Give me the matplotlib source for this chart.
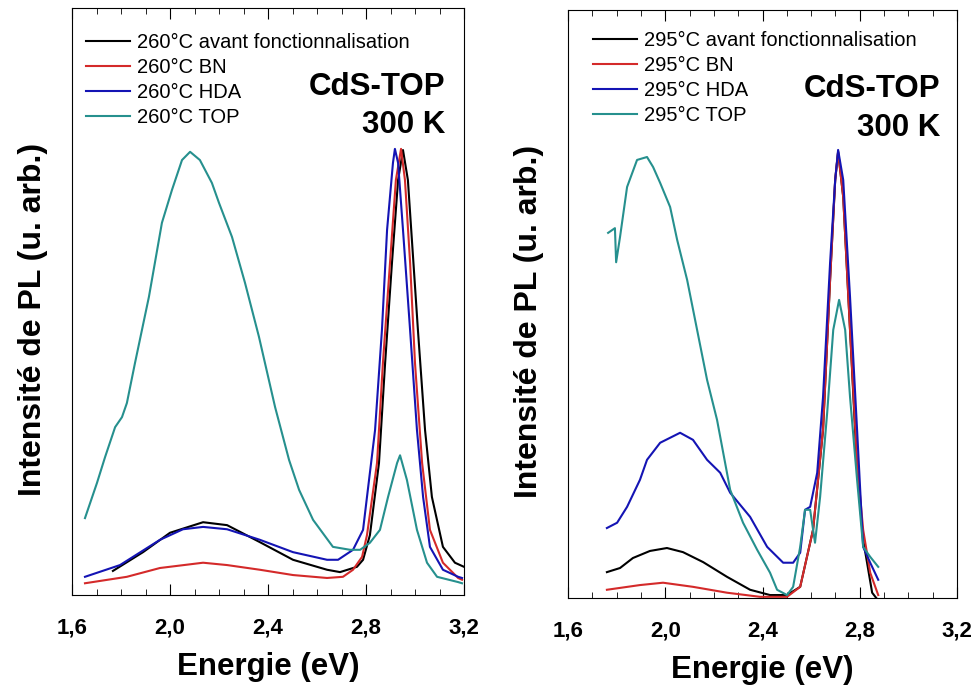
import matplotlib
matplotlib.use("Agg")
import matplotlib.pyplot as plt
from matplotlib.ticker import MultipleLocator

plt.rcParams['font.family'] = ['Liberation Sans', 'DejaVu Sans']

# ---- left panel : 260 C ----
e_260_avant = [1.767, 1.890, 2.000, 2.135, 2.233, 2.367, 2.502, 2.641, 2.694, 2.763, 2.788, 2.816,
               2.853, 2.878, 2.906, 2.931, 2.951, 2.971, 3.012, 3.041, 3.069, 3.114, 3.163, 3.200]
i_260_avant = [0.041, 0.073, 0.106, 0.124, 0.119, 0.090, 0.060, 0.043, 0.039, 0.048, 0.060, 0.102,
               0.225, 0.395, 0.566, 0.707, 0.758, 0.707, 0.451, 0.281, 0.167, 0.082, 0.055, 0.048]

e_260_bn = [1.653, 1.824, 1.959, 2.135, 2.233, 2.367, 2.502, 2.641, 2.706, 2.747, 2.784, 2.804,
            2.845, 2.869, 2.898, 2.922, 2.943, 2.959, 2.980, 3.000, 3.029, 3.061, 3.114, 3.176, 3.192]
i_260_bn = [0.020, 0.031, 0.046, 0.055, 0.051, 0.043, 0.034, 0.029, 0.031, 0.043, 0.065, 0.102,
            0.225, 0.395, 0.566, 0.707, 0.760, 0.707, 0.566, 0.395, 0.225, 0.111, 0.055, 0.029, 0.026]

e_260_hda = [1.653, 1.796, 1.959, 2.053, 2.135, 2.233, 2.367, 2.502, 2.641, 2.686, 2.747, 2.788,
             2.804, 2.837, 2.865, 2.886, 2.910, 2.918, 2.931, 2.951, 2.980, 3.008, 3.033, 3.061,
             3.114, 3.176, 3.192]
i_260_hda = [0.031, 0.051, 0.094, 0.112, 0.116, 0.112, 0.094, 0.073, 0.060, 0.060, 0.077, 0.111,
             0.167, 0.281, 0.451, 0.622, 0.736, 0.760, 0.736, 0.622, 0.451, 0.281, 0.167, 0.082,
             0.043, 0.031, 0.029]

e_260_top = [1.653, 1.702, 1.735, 1.776, 1.804, 1.824, 1.857, 1.914, 1.967, 2.008, 2.049, 2.082,
             2.122, 2.171, 2.200, 2.253, 2.306, 2.363, 2.429, 2.486, 2.527, 2.584, 2.665, 2.735,
             2.776, 2.816, 2.857, 2.890, 2.927, 2.939, 2.967, 3.008, 3.049, 3.090, 3.176, 3.192]
i_260_top = [0.131, 0.191, 0.235, 0.286, 0.303, 0.327, 0.395, 0.508, 0.634, 0.690, 0.741, 0.755,
             0.741, 0.702, 0.668, 0.610, 0.532, 0.440, 0.320, 0.230, 0.179, 0.128, 0.082, 0.077,
             0.077, 0.089, 0.111, 0.167, 0.225, 0.238, 0.196, 0.111, 0.055, 0.031, 0.022, 0.020]

# ---- right panel : 295 C ----
e_295_avant = [1.760, 1.814, 1.867, 1.937, 2.007, 2.073, 2.156, 2.254, 2.349, 2.431, 2.501, 2.555,
               2.608, 2.649, 2.678, 2.699, 2.711, 2.732, 2.760, 2.789, 2.814, 2.851, 2.868]
i_295_avant = [0.044, 0.051, 0.068, 0.080, 0.085, 0.078, 0.061, 0.036, 0.014, 0.005, 0.005, 0.019,
               0.116, 0.286, 0.541, 0.711, 0.759, 0.682, 0.456, 0.218, 0.099, 0.009, 0.000]

e_295_bn = [1.760, 1.896, 1.991, 2.114, 2.254, 2.390, 2.501, 2.555, 2.608, 2.649, 2.678, 2.699,
            2.711, 2.732, 2.760, 2.789, 2.814, 2.843, 2.876]
i_295_bn = [0.014, 0.022, 0.026, 0.019, 0.009, 0.002, 0.002, 0.019, 0.116, 0.286, 0.541, 0.711,
            0.759, 0.682, 0.456, 0.230, 0.116, 0.043, 0.005]

e_295_hda = [1.760, 1.802, 1.843, 1.896, 1.925, 1.979, 2.061, 2.114, 2.172, 2.226, 2.267, 2.349,
             2.419, 2.485, 2.526, 2.555, 2.575, 2.596, 2.625, 2.649, 2.678, 2.699, 2.711, 2.732,
             2.760, 2.789, 2.814, 2.843, 2.876]
i_295_hda = [0.119, 0.128, 0.155, 0.201, 0.235, 0.264, 0.281, 0.269, 0.235, 0.213, 0.179, 0.138,
             0.087, 0.060, 0.060, 0.077, 0.150, 0.155, 0.213, 0.342, 0.570, 0.711, 0.762, 0.711,
             0.512, 0.286, 0.087, 0.060, 0.031]

e_295_top = [1.765, 1.793, 1.798, 1.814, 1.843, 1.884, 1.925, 1.950, 1.979, 2.020, 2.049, 2.090,
             2.131, 2.172, 2.213, 2.267, 2.320, 2.378, 2.431, 2.460, 2.501, 2.526, 2.555, 2.575,
             2.596, 2.616, 2.637, 2.666, 2.691, 2.715, 2.740, 2.760, 2.789, 2.814, 2.843, 2.876]
i_295_top = [0.621, 0.629, 0.571, 0.614, 0.699, 0.745, 0.750, 0.733, 0.706, 0.665, 0.609, 0.541,
             0.456, 0.371, 0.303, 0.184, 0.128, 0.082, 0.043, 0.014, 0.005, 0.019, 0.087, 0.150,
             0.150, 0.094, 0.172, 0.315, 0.456, 0.507, 0.456, 0.342, 0.201, 0.087, 0.070, 0.053]

x_ticks = [1.6, 2.0, 2.4, 2.8, 3.2]
x_ticklabels = ['1,6', '2,0', '2,4', '2,8', '3,2']

colors = ['black', '#d42a2a', '#1414b4', '#26908e']

panels = [
    ('260', [(e_260_avant, i_260_avant), (e_260_bn, i_260_bn), (e_260_hda, i_260_hda), (e_260_top, i_260_top)],
     [72 / 976, 1 - 595 / 689, 392 / 976, 587 / 689], (0.036, 0.958), 0.952),
    ('295', [(e_295_avant, i_295_avant), (e_295_bn, i_295_bn), (e_295_hda, i_295_hda), (e_295_top, i_295_top)],
     [568 / 976, 1 - 598 / 689, 389 / 976, 588 / 689], (0.064, 0.964), 0.956),
]

fig = plt.figure(figsize=(9.76, 6.89), dpi=100)

for temp, series, rect, leg_pos, txt_x in panels:
    ax = fig.add_axes(rect)
    names = [temp + '°C avant fonctionnalisation', temp + '°C BN', temp + '°C HDA', temp + '°C TOP']
    for (e, i), c, name in zip(series, colors, names):
        ax.plot(e, i, color=c, lw=1.5, label=name)
    ax.set_xlim(1.6, 3.2)
    ax.set_ylim(0, 1)
    ax.set_xticks(x_ticks)
    ax.set_xticklabels(x_ticklabels, fontsize=16, fontweight='bold')
    ax.xaxis.set_minor_locator(MultipleLocator(0.1))
    ax.tick_params(axis='x', which='both', direction='in', top=True, pad=16)
    ax.tick_params(axis='x', which='major', length=8)
    ax.tick_params(axis='x', which='minor', length=4)
    ax.set_yticks([])
    ax.set_xlabel('Energie (eV)', fontsize=22.5, fontweight='bold', labelpad=10)
    ax.set_ylabel('Intensité de PL (u. arb.)', fontsize=23, fontweight='bold')
    ax.yaxis.set_label_coords(-0.062, 0.47)
    ax.legend(loc='upper left', bbox_to_anchor=leg_pos, frameon=False, fontsize=14.5,
              handlelength=2.2, handletextpad=0.35, labelspacing=0.3, borderaxespad=0, borderpad=0)
    ax.text(txt_x, 0.866, 'CdS-TOP', transform=ax.transAxes, ha='right', va='center',
            fontsize=22.5, fontweight='bold')
    ax.text(txt_x, 0.8, '300 K', transform=ax.transAxes, ha='right', va='center',
            fontsize=22.5, fontweight='bold')

fig.savefig('out.png', dpi=100)
